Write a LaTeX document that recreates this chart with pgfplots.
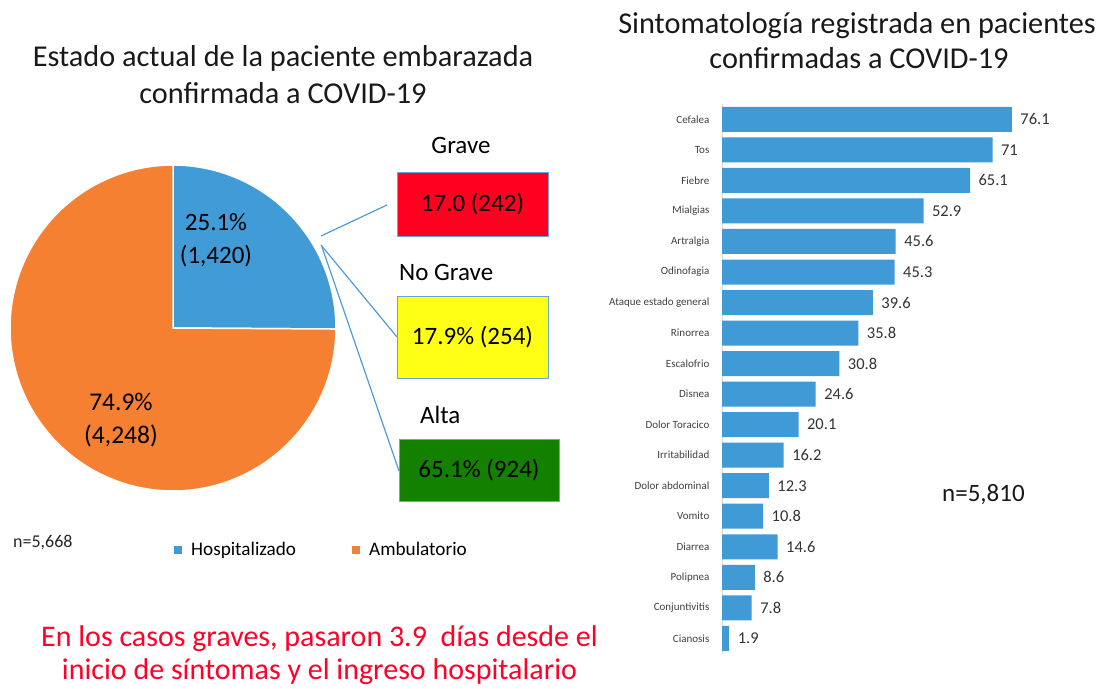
\documentclass[border=0pt]{standalone}
\usepackage{fontspec}
\setmainfont{Carlito}
\usepackage{pgfplots}
\pgfplotsset{compat=1.18}
\usepgfplotslibrary{polar}
\usepackage{pgfplotstable}

\definecolor{pieblue}{RGB}{65,155,214}
\definecolor{pieorange}{RGB}{245,128,50}
\definecolor{barblue}{RGB}{64,154,214}
\definecolor{gravered}{RGB}{255,0,32}
\definecolor{noyellow}{RGB}{255,255,20}
\definecolor{altagreen}{RGB}{20,128,0}
\definecolor{boxborder}{RGB}{100,165,220}
\definecolor{linecol}{RGB}{80,155,215}
\definecolor{notered}{RGB}{255,0,40}

\newcommand{\fs}[1]{\fontsize{#1}{#1}\selectfont}

\pgfplotstableread{
idx value
0 76.1
1 71
2 65.1
3 52.9
4 45.6
5 45.3
6 39.6
7 35.8
8 30.8
9 24.6
10 20.1
11 16.2
12 12.3
13 10.8
14 14.6
15 8.6
16 7.8
17 1.9
}\symptoms

% pie shares (percent)
\def\hosp{25.1}
\def\ambu{74.9}

\begin{document}
\begin{tikzpicture}
\useasboundingbox (0pt,0pt) rectangle (1099pt,-688pt);

% ---------- titles ----------
\node[font=\fs{30.3}, anchor=base, text=black!90] at (283pt,-66pt) {Estado actual de la paciente embarazada};
\node[font=\fs{30.3}, anchor=base, text=black!90] at (283pt,-103pt) {confirmada a COVID-19};
\node[font=\fs{30.3}, anchor=base, text=black!90] at (857pt,-33pt) {Sintomatología registrada en pacientes};
\node[font=\fs{30.3}, anchor=base, text=black!90] at (859pt,-68pt) {confirmadas a COVID-19};

% ---------- pie ----------
\pgfmathsetmacro{\hospstart}{90-3.6*\hosp}
\pgfmathsetmacro{\ambuend}{90+3.6*\ambu}
\begin{polaraxis}[
  at={(173pt,-328pt)}, anchor=center,
  width=326pt, height=326pt, scale only axis,
  ymin=0, ymax=1, hide axis, clip=false,
  legend image code/.code={\path[#1, draw=none] (0pt,-4pt) rectangle (8pt,4pt);},
  legend style={draw=none, fill=none, inner sep=0pt, at={(0.503,-0.181)}, anchor=west,
    font=\fs{19.2}, legend columns=2,
    /tikz/every odd column/.append style={column sep=7pt},
    /tikz/every even column/.append style={column sep=54pt}},
]
\addplot[fill=pieblue, draw=white, line width=1.5pt, domain=\hospstart:90, samples=120] {1} -- (axis cs:0,0) -- cycle;
\addlegendentry{Hospitalizado}
\addplot[fill=pieorange, draw=white, line width=1.5pt, domain=90:\ambuend, samples=240] {1} -- (axis cs:0,0) -- cycle;
\addlegendentry{Ambulatorio}
\end{polaraxis}

\node[font=\fs{25}, anchor=base] at (216pt,-230pt) {25.1\%};
\node[font=\fs{25}, anchor=base] at (216pt,-263pt) {(1,420)};
\node[font=\fs{25.5}, anchor=base] at (121pt,-410pt) {74.9\%};
\node[font=\fs{25.5}, anchor=base] at (121pt,-443pt) {(4,248)};

\node[font=\fs{18}, anchor=base west, inner sep=0pt, text=black!85] at (13pt,-547pt) {n=5,668};

% connector lines
\draw[linecol, line width=1.2pt] (321pt,-236pt) -- (387pt,-205pt);
\draw[linecol, line width=1.2pt] (321pt,-245pt) -- (397pt,-337pt);
\draw[linecol, line width=1.2pt] (322pt,-247pt) -- (399pt,-471pt);

% boxes
\node[font=\fs{25}, anchor=base] at (461pt,-153pt) {Grave};
\node[draw=boxborder, fill=gravered, minimum width=151pt, minimum height=64pt, inner sep=0pt, font=\fs{25}] at (472.5pt,-204pt) {17.0 (242)};
\node[font=\fs{25}, anchor=base west, inner sep=0pt] at (399pt,-280pt) {No Grave};
\node[draw=boxborder, fill=noyellow, minimum width=151pt, minimum height=82pt, inner sep=0pt, font=\fs{25}] at (472.5pt,-337pt) {17.9\% (254)};
\node[font=\fs{25}, anchor=base west, inner sep=0pt] at (420pt,-423pt) {Alta};
\node[draw=boxborder, fill=altagreen, minimum width=160pt, minimum height=62pt, inner sep=0pt, font=\fs{25}] at (479pt,-470pt) {65.1\% (924)};

% bottom note
\node[font=\fs{30}, anchor=base, text=notered] at (319.5pt,-646pt) {En los casos graves, pasaron 3.9\ \ días desde el};
\node[font=\fs{30}, anchor=base, text=notered] at (319.5pt,-679pt) {inicio de síntomas y el ingreso hospitalario};

% ---------- bar chart ----------
\begin{axis}[
  at={(722pt,-653.6pt)}, anchor=south west,
  width=342.9pt, height=549.5pt, scale only axis,
  xbar, bar width=25pt,
  xmin=0, xmax=90,
  ymin=-0.5, ymax=17.5, y dir=reverse,
  axis x line=none, axis y line=left,
  axis line style={-, draw=black!15, line width=1pt},
  ytick={0,...,17},
  yticklabels={Cefalea,Tos,Fiebre,Mialgias,Artralgia,Odinofagia,Ataque estado general,Rinorrea,Escalofrio,Disnea,Dolor Toracico,Irritabilidad,Dolor abdominal,Vomito,Diarrea,Polipnea,Conjuntivitis,Cianosis},
  ytick style={draw=none},
  yticklabel style={font=\fs{11}, text=black!75, xshift=-7pt},
  point meta=x,
  nodes near coords,
  nodes near coords style={font=\fs{16.5}, text=black!80, xshift=5pt},
  /pgf/number format/assume math mode=true,
  clip=false,
]
\addplot[fill=barblue, draw=none] table[x=value, y=idx] {\symptoms};
\end{axis}

\node[font=\fs{25}, anchor=base west, inner sep=0pt, text=black!90] at (942pt,-501pt) {n=5,810};

\end{tikzpicture}
\end{document}
